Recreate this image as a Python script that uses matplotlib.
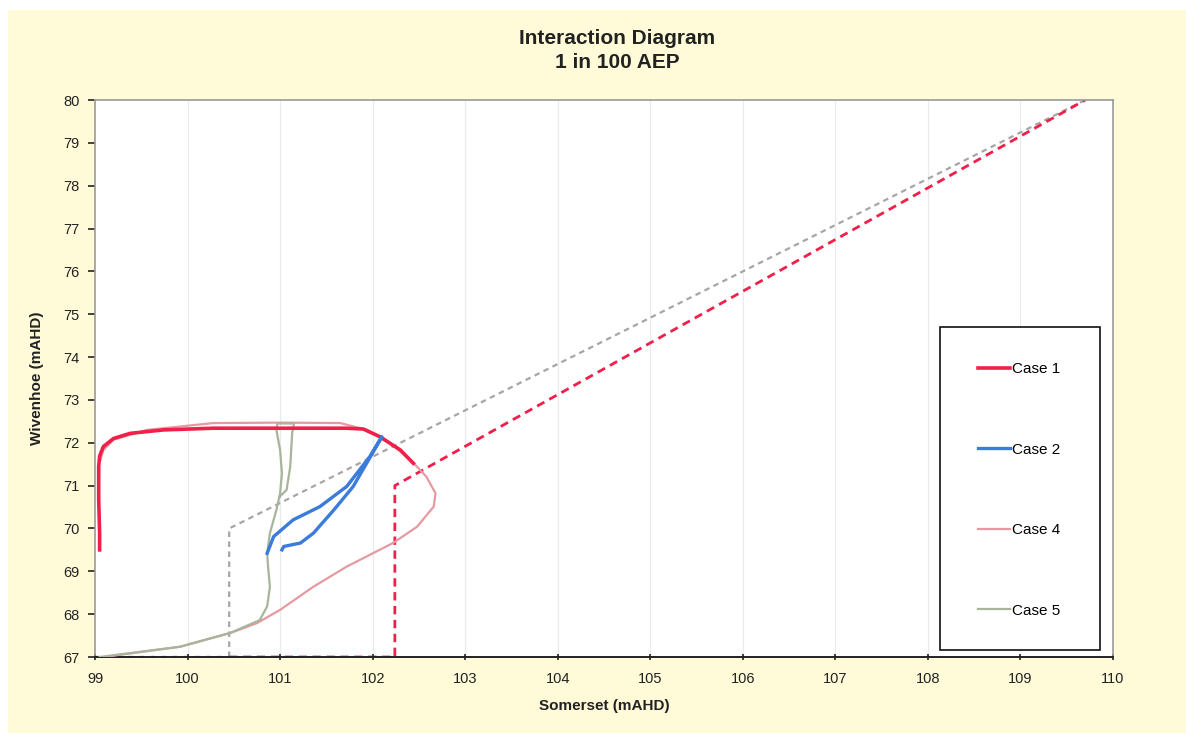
import matplotlib
matplotlib.use("Agg")
import matplotlib.pyplot as plt
from matplotlib.patches import Rectangle

plt.rcParams["font.family"] = ["Liberation Sans", "DejaVu Sans"]

# Somerset (x) / Wivenhoe (y) levels, mAHD
case1_x = [99.05, 99.05, 99.04, 99.04, 99.05, 99.09, 99.20, 99.38, 99.74, 100.28,
           101.00, 101.72, 101.90, 102.08, 102.30, 102.44]
case1_y = [69.50, 69.89, 70.67, 71.45, 71.69, 71.91, 72.10, 72.22, 72.30, 72.34,
           72.34, 72.34, 72.32, 72.14, 71.83, 71.52]

case2_x = [100.86, 100.93, 101.14, 101.43, 101.72, 101.97, 102.10,
           101.79, 101.58, 101.36, 101.22, 101.04, 101.02]
case2_y = [69.42, 69.81, 70.20, 70.51, 70.98, 71.68, 72.14,
           70.98, 70.43, 69.89, 69.66, 69.58, 69.50]

case4_x = [99.13, 99.92, 100.46, 100.75, 101.00, 101.36, 101.72, 102.22, 102.48,
           102.66, 102.68, 102.58, 102.41, 102.19, 101.94, 101.65, 101.00, 100.28,
           99.56, 99.20, 99.09, 99.06]
case4_y = [67.01, 67.24, 67.56, 67.79, 68.10, 68.64, 69.11, 69.66, 70.04,
           70.51, 70.82, 71.21, 71.60, 71.99, 72.30, 72.46, 72.47, 72.46,
           72.30, 72.07, 71.83, 71.60]

case5_x = [99.05, 99.92, 100.46, 100.78, 100.86, 100.89, 100.87, 100.86, 100.89,
           100.96, 101.00, 101.02, 101.00, 100.96, 100.97, 101.15, 101.13, 101.11,
           101.07, 101.00]
case5_y = [67.00, 67.24, 67.56, 67.86, 68.18, 68.64, 69.11, 69.42, 69.89,
           70.43, 70.82, 71.29, 71.83, 72.30, 72.45, 72.45, 72.22, 71.45,
           70.90, 70.75]

# dashed limit lines
limit1_x = [100.45, 102.24, 102.24, 109.70]
limit1_y = [67.0, 67.0, 71.0, 80.0]
limit5_x = [100.45, 100.45, 109.70]
limit5_y = [67.0, 70.0, 80.0]
base5_x = [99.0, 100.45]
base5_y = [67.0, 67.0]

x_ticks = list(range(99, 111))
y_ticks = list(range(67, 81))

W, H = 1186, 733
fig = plt.figure(figsize=(W / 100, H / 100), dpi=100)
fig.patch.set_facecolor("white")
fig.patches.append(Rectangle((8 / W, 0), 1 - 8 / W, 1 - 10 / H,
                             transform=fig.transFigure, facecolor="#FFFBD8",
                             edgecolor="none", zorder=-10))

ax = fig.add_axes([95 / W, 1 - 657 / H, (1113 - 95) / W, (657 - 100) / H])
ax.set_facecolor("white")

for xv in x_ticks[1:-1]:
    ax.axvline(xv, color="#EBEBEB", lw=0.9, zorder=0)

ax.plot(limit5_x, limit5_y, color="#A6A6A6", lw=1.6, ls=(0, (2.5, 2)), zorder=2)
ax.plot(base5_x, base5_y, color="#444444", lw=1.6, ls=(0, (2, 3)), zorder=2)
ax.plot(limit1_x, limit1_y, color="#F0204A", lw=2.0, ls=(0, (3, 2)), zorder=2)

ax.plot(case4_x, case4_y, color="#E59AA2", lw=1.6, label="Case 4", zorder=3)
ax.plot(case5_x, case5_y, color="#A7B59A", lw=1.6, label="Case 5", zorder=4)
ax.plot(case1_x, case1_y, color="#F0204A", lw=2.6, label="Case 1", zorder=5)
ax.plot(case2_x, case2_y, color="#3A7BDB", lw=2.4, label="Case 2", zorder=6)

ax.set_xlim(99, 110)
ax.set_ylim(67, 80)
ax.set_xticks(x_ticks)
ax.set_yticks(y_ticks)
ax.tick_params(axis="both", labelsize=10.5, colors="#222222", length=5, width=1.2)
ax.tick_params(axis="x", direction="inout", pad=8)
ax.tick_params(axis="y", direction="out", pad=6)

for side in ["top", "right", "left"]:
    ax.spines[side].set_color("#9A9A9A")
    ax.spines[side].set_linewidth(1.2)
ax.spines["bottom"].set_color("#222222")
ax.spines["bottom"].set_linewidth(1.4)

ax.set_xlabel("Somerset (mAHD)", fontsize=11, fontweight="bold", color="#222222", labelpad=10)
ax.set_ylabel("Wivenhoe (mAHD)", fontsize=11, fontweight="bold", color="#222222", labelpad=14)

fig.text(617 / W, 1 - 38 / H, "Interaction Diagram", ha="center", va="center",
         fontsize=15, fontweight="bold", color="#222222")
fig.text(617 / W, 1 - 62 / H, "1 in 100 AEP", ha="center", va="center",
         fontsize=15, fontweight="bold", color="#222222")

# legend box drawn separately so its size is fixed
ax.add_patch(Rectangle((940 / W, 1 - 650 / H), 160 / W, 323 / H,
                       transform=fig.transFigure, facecolor="white",
                       edgecolor="#111111", linewidth=1.2, zorder=8, clip_on=False))
handles, labels = ax.get_legend_handles_labels()
order = [labels.index(n) for n in ["Case 1", "Case 2", "Case 4", "Case 5"]]
leg = ax.legend([handles[i] for i in order], [labels[i] for i in order],
                loc="upper left", bbox_to_anchor=(978 / W, 1 - 362 / H),
                bbox_transform=fig.transFigure, frameon=False,
                fontsize=11, labelspacing=4.36, handlelength=2.1, handletextpad=0.15,
                borderpad=0, borderaxespad=0)
leg.set_zorder(10)

fig.savefig("out.png", dpi=100)
